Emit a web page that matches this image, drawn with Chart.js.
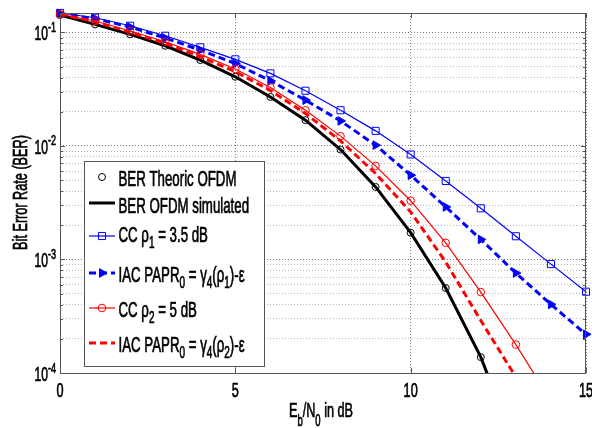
<!DOCTYPE html>
<html>
<head>
<meta charset="utf-8">
<script src="https://cdn.jsdelivr.net/npm/chart.js@4.4.1/dist/chart.umd.min.js"></script>
<style>
  html, body { margin: 0; padding: 0; background: #fff; }
  canvas { display: block; }
</style>
</head>
<body>
<canvas id="berChart" width="592" height="428"></canvas>
<script>
// Eb/N0 in dB
const snr = [0, 1, 2, 3, 4, 5, 6, 7, 8, 9, 10, 11, 12, 13, 14, 15];

// values
const berTheory = [0.142, 0.1176, 0.096, 0.0762, 0.057, 0.0406, 0.027, 0.01686, 0.00929, 0.00435, 0.00172, 0.00056, 0.000138];
const berSim = [0.142, 0.1176, 0.096, 0.0762, 0.057, 0.0406, 0.027, 0.01686, 0.00929, 0.00435, 0.00172, 0.00056, 0.000138, 0.000022];
const ccRho1 = [0.148, 0.1345, 0.1143, 0.0933, 0.0738, 0.0578, 0.0435, 0.0306, 0.0206, 0.01356, 0.0084, 0.00491, 0.00282, 0.0016, 0.00091, 0.00052];
const iacRho1 = [0.1465, 0.1323, 0.1113, 0.0891, 0.0698, 0.0531, 0.0374, 0.0253, 0.0166, 0.01014, 0.00552, 0.0029, 0.0015, 0.000759, 0.000402, 0.000219];
const ccRho2 = [0.1442, 0.1258, 0.1027, 0.0826, 0.064, 0.0475, 0.0327, 0.0206, 0.01219, 0.00667, 0.00329, 0.0014, 0.000516, 0.000178, 0.000057, 0.000017];
const iacRho2 = [0.1445, 0.124, 0.1005, 0.08, 0.061, 0.045, 0.0308, 0.0193, 0.01106, 0.00571, 0.00262, 0.000948, 0.00029, 0.000092, 0.000024];

const xTicks = [0, 5, 10, 15];
const yDecades = [1e-4, 1e-3, 1e-2, 1e-1];
const yExps = ["-4", "-3", "-2", "-1"];
const yMinor = [2, 3, 4, 5, 6, 7, 8, 9];

// text pieces: [text, 0 normal | 1 subscript | 2 superscript]
const xTitle = [["E", 0], ["b", 1], ["/N", 0], ["0", 1], [" in dB", 0]];
const yTitle = [["Bit Error Rate (BER)", 0]];
const legendLabels = [
  [["BER Theoric OFDM", 0]],
  [["BER OFDM simulated", 0]],
  [["CC \u03C1", 0], ["1", 1], [" = 3.5 dB", 0]],
  [["IAC PAPR", 0], ["0", 1], [" = \u03B3", 0], ["4", 1], ["(\u03C1", 0], ["1", 1], [")-\u03B5", 0]],
  [["CC \u03C1", 0], ["2", 1], [" = 5 dB", 0]],
  [["IAC PAPR", 0], ["0", 1], [" = \u03B3", 0], ["4", 1], ["(\u03C1", 0], ["2", 1], [")-\u03B5", 0]],
];

const FONT = '"Liberation Sans Narrow", "Liberation Sans", Arial, sans-serif';
let SX = 0.73;

function pts(values) {
  return values.map((v, i) => ({ x: snr[i], y: v }));
}

function calibrate(ctx) {
  ctx.save();
  ctx.font = "22px " + FONT;
  const w = ctx.measureText("BER Theoric OFDM").width;
  ctx.restore();
  SX = 118 / w;
}

function drawRich(ctx, parts, x, y, size, align, subDy) {
  ctx.save();
  ctx.translate(x, y);
  ctx.scale(SX, 1);
  ctx.fillStyle = "#000";
  ctx.strokeStyle = "#000";
  ctx.lineWidth = 0.7;
  ctx.setLineDash([]);
  ctx.textBaseline = "alphabetic";
  ctx.textAlign = "left";
  const sizes = parts.map((p) => (p[1] ? size * 0.75 : size));
  const widths = parts.map((p, i) => {
    ctx.font = sizes[i] + "px " + FONT;
    return ctx.measureText(p[0]).width;
  });
  const total = widths.reduce((a, b) => a + b, 0);
  let cx = align === "right" ? -total : align === "center" ? -total / 2 : 0;
  parts.forEach((p, i) => {
    ctx.font = sizes[i] + "px " + FONT;
    const dy = p[1] === 1 ? size * subDy : p[1] === 2 ? -size * 0.42 : 0;
    ctx.fillText(p[0], cx, dy);
    ctx.strokeText(p[0], cx, dy);
    cx += widths[i];
  });
  ctx.restore();
}

const clipArea = { left: 8, top: 8, right: 8, bottom: 0 };

// axes box, inner ticks, tick labels, titles and legend
const decorPlugin = {
  id: "decor",
  afterDatasetsDraw(chart) {
    const { ctx, chartArea: a, scales } = chart;
    const xs = scales.x, ys = scales.y;
    ctx.save();
    ctx.strokeStyle = "#555";
    ctx.lineWidth = 1;

    // inner tick marks
    ctx.beginPath();
    yDecades.forEach((d) => {
      const py = Math.round(ys.getPixelForValue(d)) + 0.5;
      ctx.moveTo(a.left, py); ctx.lineTo(a.left + 5, py);
      ctx.moveTo(a.right, py); ctx.lineTo(a.right - 5, py);
      yMinor.forEach((m) => {
        const v = d * m;
        if (v > ys.max) return;
        const pm = Math.round(ys.getPixelForValue(v)) + 0.5;
        ctx.moveTo(a.left, pm); ctx.lineTo(a.left + 3, pm);
        ctx.moveTo(a.right, pm); ctx.lineTo(a.right - 3, pm);
      });
    });
    xTicks.forEach((t) => {
      const px = Math.round(xs.getPixelForValue(t)) + 0.5;
      ctx.moveTo(px, a.bottom); ctx.lineTo(px, a.bottom - 5);
      ctx.moveTo(px, a.top); ctx.lineTo(px, a.top + 5);
    });
    ctx.stroke();

    // box
    ctx.strokeRect(Math.round(a.left) + 0.5, Math.round(a.top) + 0.5,
      Math.round(a.right - a.left) - 1, Math.round(a.bottom - a.top));

    // tick labels
    xTicks.forEach((t) => {
      drawRich(ctx, [[String(t), 0]], xs.getPixelForValue(t), a.bottom + 24, 21, "center", 0);
    });
    yDecades.forEach((d, i) => {
      drawRich(ctx, [["10", 0], [yExps[i], 2]], a.left - 4, ys.getPixelForValue(d) + 8, 20, "right", 0);
    });

    // axis titles
    drawRich(ctx, xTitle, 321, 416.5, 21, "center", 0.47);
    ctx.save();
    ctx.translate(26.5, 192.5);
    ctx.rotate(-Math.PI / 2);
    drawRich(ctx, yTitle, 0, 0, 21, "center", 0);
    ctx.restore();

    // legend
    ctx.fillStyle = "#fff";
    ctx.fillRect(84.5, 161.5, 180, 205);
    ctx.strokeRect(84.5, 161.5, 180, 205);
    const sampleY = [177, 203, 236, 273, 308, 343];
    const baseY = [186, 213, 242, 282, 317, 352];
    chart.data.datasets.forEach((ds, i) => {
      const y = sampleY[i];
      if (ds.showLine !== false) {
        ctx.save();
        ctx.strokeStyle = ds.borderColor;
        ctx.lineWidth = ds.borderWidth;
        ctx.setLineDash(ds.borderDash || []);
        ctx.beginPath();
        ctx.moveTo(89, y); ctx.lineTo(115, y);
        ctx.stroke();
        ctx.restore();
      }
      if (ds.pointRadius > 0) {
        ctx.save();
        ctx.strokeStyle = ds.pointBorderColor;
        ctx.fillStyle = ds.pointBackgroundColor;
        Chart.helpers.drawPoint(ctx, {
          pointStyle: ds.pointStyle,
          radius: ds.pointRadius,
          rotation: ds.pointRotation || 0,
          borderWidth: ds.pointBorderWidth,
        }, 102, y);
        ctx.restore();
      }
      drawRich(ctx, legendLabels[i], 118.5, baseY[i], 22, "left", 0.25);
    });
    ctx.restore();
  },
};

const canvas = document.getElementById("berChart");
calibrate(canvas.getContext("2d"));

new Chart(canvas, {
  type: "line",
  data: {
    datasets: [
      {
        label: "BER Theoric OFDM",
        data: pts(berTheory),
        showLine: false,
        pointStyle: "circle",
        pointRadius: 3.5,
        pointBorderWidth: 1,
        pointBorderColor: "#000",
        pointBackgroundColor: "rgba(0,0,0,0)",
        clip: clipArea,
        order: 4,
      },
      {
        label: "BER OFDM simulated",
        data: pts(berSim),
        borderColor: "#000",
        borderWidth: 3,
        pointRadius: 0,
        clip: clipArea,
        order: 5,
      },
      {
        label: "CC rho1 = 3.5 dB",
        data: pts(ccRho1),
        borderColor: "#0000ff",
        borderWidth: 1.2,
        pointStyle: "rect",
        pointRadius: 5,
        pointBorderWidth: 1,
        pointBorderColor: "#0000ff",
        pointBackgroundColor: "rgba(0,0,0,0)",
        clip: clipArea,
        order: 3,
      },
      {
        label: "IAC rho1",
        data: pts(iacRho1),
        borderColor: "#0000ff",
        borderWidth: 3,
        borderDash: [7, 4],
        pointStyle: "triangle",
        pointRotation: 90,
        pointRadius: 5,
        pointBorderWidth: 1,
        pointBorderColor: "#0000ff",
        pointBackgroundColor: "#0000ff",
        clip: clipArea,
        order: 2,
      },
      {
        label: "CC rho2 = 5 dB",
        data: pts(ccRho2),
        borderColor: "#ff0000",
        borderWidth: 1.2,
        pointStyle: "circle",
        pointRadius: 3.8,
        pointBorderWidth: 1,
        pointBorderColor: "#ff0000",
        pointBackgroundColor: "rgba(0,0,0,0)",
        clip: clipArea,
        order: 1,
      },
      {
        label: "IAC rho2",
        data: pts(iacRho2),
        borderColor: "#ff0000",
        borderWidth: 3,
        borderDash: [7, 4],
        pointRadius: 0,
        clip: clipArea,
        order: 0,
      },
    ],
  },
  options: {
    responsive: false,
    animation: false,
    layout: { padding: { top: 13, right: 5, left: 0, bottom: 0 } },
    plugins: { legend: { display: false }, tooltip: { enabled: false } },
    elements: { line: { tension: 0, fill: false } },
    scales: {
      x: {
        type: "linear",
        min: 0,
        max: 15,
        ticks: { display: false, stepSize: 5 },
        grid: { color: "#8a8a8a", drawTicks: false },
        border: { display: false, dash: [1, 2] },
        afterFit: (s) => { s.height = 55; },
      },
      y: {
        type: "logarithmic",
        min: 1e-4,
        max: 0.148,
        bounds: "data",
        ticks: { display: false },
        grid: {
          drawTicks: false,
          color: (c) => (c.tick && yDecades.includes(c.tick.value) ? "#777" : "#b8b8b8"),
        },
        border: { display: false, dash: [1, 2] },
        afterBuildTicks: (s) => {
          const ticks = [];
          yDecades.forEach((d) => {
            ticks.push({ value: d });
            yMinor.forEach((m) => { if (d * m <= s.max) ticks.push({ value: d * m }); });
          });
          s.ticks = ticks;
        },
        afterFit: (s) => { s.width = 60; },
      },
    },
  },
  plugins: [decorPlugin],
});
</script>
</body>
</html>
